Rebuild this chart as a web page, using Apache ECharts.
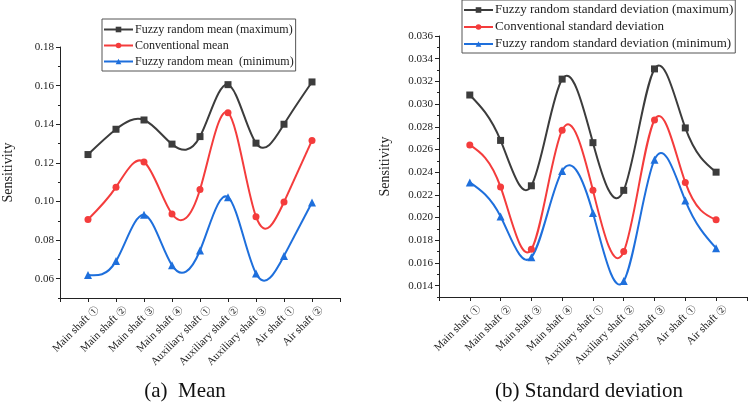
<!DOCTYPE html>
<html>
<head>
<meta charset="utf-8">
<script src="https://cdn.jsdelivr.net/npm/echarts@6/dist/echarts.min.js"></script>
<style>
  html, body { margin: 0; padding: 0; background: #fff; }
  #main { width: 749px; height: 402px; }
</style>
</head>
<body>
<div id="main"></div>
<script>
// categories (same for both panels)
var shafts = ['Main shaft \u2460', 'Main shaft \u2461', 'Main shaft \u2462', 'Main shaft \u2463',
              'Auxiliary shaft \u2460', 'Auxiliary shaft \u2461', 'Auxiliary shaft \u2462',
              'Air shaft \u2460', 'Air shaft \u2461'];

// (a) mean
var meanMax  = [0.1243, 0.1374, 0.1422, 0.1297, 0.1336, 0.1605, 0.1302, 0.1400, 0.1619];
var meanConv = [0.0907, 0.1074, 0.1205, 0.0935, 0.1062, 0.1459, 0.0921, 0.0997, 0.1316];
var meanMin  = [0.0619, 0.0691, 0.0931, 0.0669, 0.0746, 0.1022, 0.0627, 0.0718, 0.0995];

// (b) standard deviation
var stdMax  = [0.0308, 0.0268, 0.0228, 0.0322, 0.0266, 0.0224, 0.0331, 0.0279, 0.0240];
var stdConv = [0.0264, 0.0227, 0.0172, 0.0277, 0.0224, 0.0170, 0.0286, 0.0231, 0.0198];
var stdMin  = [0.0231, 0.0201, 0.0165, 0.0241, 0.0204, 0.0144, 0.0251, 0.0215, 0.0173];

// y tick labels
var meanTicks = [0.06, 0.08, 0.10, 0.12, 0.14, 0.16, 0.18];
var stdTicks  = [0.014, 0.016, 0.018, 0.020, 0.022, 0.024, 0.026, 0.028, 0.030, 0.032, 0.034, 0.036];

var FONT = '"Liberation Serif", "Times New Roman", "Noto Sans CJK SC", serif';
var cBlack = '#3c3c3c', cRed = '#f43c3c', cBlue = '#1e6fdc';

function pts(arr) {
    return arr.map(function (v, i) { return [i + 1, v]; });
}

// slopes of a natural cubic spline through the points (x step = 1), like Origin's "Spline" connect
function splineSlopes(y) {
    var n = y.length, M = new Array(n).fill(0);
    var c = [], d = [];
    for (var i = 1; i < n - 1; i++) {
        var rhs = 6 * (y[i + 1] - 2 * y[i] + y[i - 1]);
        var b = 4 - (i > 1 ? c[i - 1] : 0);
        c[i] = 1 / b;
        d[i] = (rhs - (i > 1 ? d[i - 1] : 0)) / b;
    }
    for (var k = n - 2; k >= 1; k--) {
        M[k] = d[k] - (k < n - 2 ? c[k] * M[k + 1] : 0);
    }
    var m = [];
    for (var j = 0; j < n - 1; j++) m[j] = (y[j + 1] - y[j]) - (2 * M[j] + M[j + 1]) / 6;
    m[n - 1] = (y[n - 1] - y[n - 2]) + (M[n - 2] + 2 * M[n - 1]) / 6;
    return m;
}

// smooth connecting curve, one bezier piece per data interval
function curve(xi, yi, ys, color) {
    var m = splineSlopes(ys);
    return {
        type: 'custom', coordinateSystem: 'cartesian2d', xAxisIndex: xi, yAxisIndex: yi,
        data: pts(ys), encode: { x: 0, y: 1 }, silent: true, z: 2,
        renderItem: function (params, api) {
            var i = params.dataIndex;
            if (i >= ys.length - 1) return null;
            var p0 = api.coord([i + 1, ys[i]]);
            var c1 = api.coord([i + 1 + 1 / 3, ys[i] + m[i] / 3]);
            var c2 = api.coord([i + 2 - 1 / 3, ys[i + 1] - m[i + 1] / 3]);
            var p1 = api.coord([i + 2, ys[i + 1]]);
            return {
                type: 'bezierCurve',
                shape: { x1: p0[0], y1: p0[1], x2: p1[0], y2: p1[1], cpx1: c1[0], cpy1: c1[1], cpx2: c2[0], cpy2: c2[1] },
                style: { stroke: color, lineWidth: 2, fill: 'none' }
            };
        }
    };
}

function xAxisFor(gi) {
    return {
        gridIndex: gi, type: 'value', min: 0, max: 10, interval: 1,
        splitLine: { show: false },
        axisLine: { lineStyle: { color: '#222', width: 1 } },
        axisTick: { length: 4, lineStyle: { color: '#222' } },
        axisLabel: {
            rotate: 45, margin: 1, verticalAlign: 'top', padding: [7, 0, 0, 0], color: '#222',
            formatter: function (v) {
                var s = shafts[v - 1];
                if (!s) return '';
                return '{t|' + s.slice(0, -1) + '}{c|' + s.slice(-1) + '}';
            },
            rich: {
                t: { fontFamily: '"Liberation Serif", serif', fontSize: 11, color: '#222' },
                c: { fontFamily: '"Noto Sans CJK SC"', fontSize: 10, color: '#222' }
            }
        }
    };
}

function yAxesFor(gi, min, max, step, ticks, digits, gap) {
    return [{
        gridIndex: gi, type: 'value', min: min, max: max, interval: step,
        name: 'Sensitivity', nameLocation: 'middle', nameGap: gap,
        nameTextStyle: { fontFamily: FONT, fontSize: 14, color: '#222' },
        splitLine: { show: false },
        axisLine: { show: true, lineStyle: { color: '#222', width: 1 } },
        axisTick: { length: 2, lineStyle: { color: '#222' } },
        axisLabel: {
            customValues: ticks, margin: 6, fontFamily: FONT, fontSize: 11, color: '#222',
            formatter: function (v) { return v.toFixed(digits); }
        }
    }, {
        // longer ticks for the labelled values
        gridIndex: gi, type: 'value', min: min, max: max, position: 'left',
        splitLine: { show: false },
        axisLine: { show: false },
        axisLabel: { show: false },
        axisTick: { customValues: ticks, length: 4, lineStyle: { color: '#222' } }
    }];
}

// markers only (the curve is drawn by the custom series)
function marks(name, xi, yi, data, color, symbol) {
    return {
        name: name, type: 'line', xAxisIndex: xi, yAxisIndex: yi,
        data: pts(data), symbol: symbol, symbolSize: symbol === 'triangle' ? 8 : 7,
        lineStyle: { color: color, width: 2, opacity: 0 },
        itemStyle: { color: color },
        z: 3
    };
}

function legendAt(left, top, names, fs, pad, lh) {
    return {
        left: left, top: top, orient: 'vertical', data: names,
        borderColor: '#555', borderWidth: 1, borderRadius: 0,
        padding: pad, itemGap: 3, itemWidth: 29, itemHeight: 7,
        lineStyle: { opacity: 1, width: 2 },
        textStyle: { fontFamily: FONT, fontSize: fs, color: '#222', lineHeight: lh, padding: [0, 0, 0, -3] }
    };
}

var myChart = echarts.init(document.getElementById('main'));

var ya = yAxesFor(0, 0.05, 0.18, 0.01, meanTicks, 2, 45);
var yb = yAxesFor(1, 0.013, 0.036, 0.001, stdTicks, 3, 47);

var option = {
    animation: false,
    backgroundColor: '#fff',
    grid: [
        { left: 51, top: 47, width: 289, height: 251 },
        { left: 439, top: 36, width: 309, height: 261 }
    ],
    xAxis: [xAxisFor(0), xAxisFor(1)],
    yAxis: ya.concat(yb),
    legend: [
        legendAt(102, 19, ['Fuzzy random mean (maximum)', 'Conventional mean', 'Fuzzy random mean  (minimum)'],
                 12, [4, 2, 3, 1], 13),
        legendAt(462, 0, ['Fuzzy random standard deviation (maximum)', 'Conventional standard deviation',
                          'Fuzzy random standard deviation (minimum)'], 13, [3, 2, 2, 1], 14)
    ],
    series: [
        curve(0, 0, meanMax, cBlack),
        curve(0, 0, meanConv, cRed),
        curve(0, 0, meanMin, cBlue),
        curve(1, 2, stdMax, cBlack),
        curve(1, 2, stdConv, cRed),
        curve(1, 2, stdMin, cBlue),
        marks('Fuzzy random mean (maximum)', 0, 0, meanMax, cBlack, 'rect'),
        marks('Conventional mean', 0, 0, meanConv, cRed, 'circle'),
        marks('Fuzzy random mean  (minimum)', 0, 0, meanMin, cBlue, 'triangle'),
        marks('Fuzzy random standard deviation (maximum)', 1, 2, stdMax, cBlack, 'rect'),
        marks('Conventional standard deviation', 1, 2, stdConv, cRed, 'circle'),
        marks('Fuzzy random standard deviation (minimum)', 1, 2, stdMin, cBlue, 'triangle')
    ],
    graphic: [
        { type: 'text', x: 185, y: 391, style: { text: '(a)  Mean', font: '21px ' + FONT, fill: '#111', textAlign: 'center', textVerticalAlign: 'middle' } },
        { type: 'text', x: 589, y: 391, style: { text: '(b) Standard deviation', font: '21px ' + FONT, fill: '#111', textAlign: 'center', textVerticalAlign: 'middle' } }
    ]
};

myChart.setOption(option, true);
</script>
</body>
</html>
